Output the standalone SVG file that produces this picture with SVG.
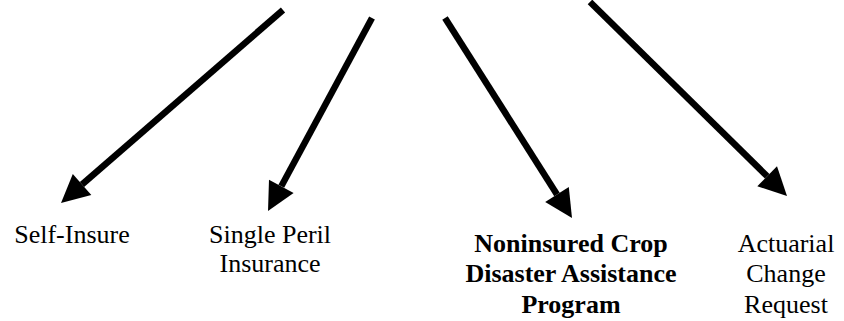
<svg xmlns="http://www.w3.org/2000/svg" width="844" height="321" viewBox="0 0 844 321">
<style>
.ln{stroke:#000;stroke-width:6.5;fill:none}
.hd{fill:#000}
text{font-family:"Liberation Serif","Times New Roman",serif;font-size:26px;fill:#000;text-anchor:middle}
.b{font-weight:bold}
</style>
<rect width="844" height="321" fill="#fff"/>
<g id="connectors">
<line class="ln" x1="283" y1="10" x2="82" y2="184.5"/>
<polygon class="hd" points="61,203 72.8,174 91.3,195"/>
<line class="ln" x1="372" y1="18" x2="281.3" y2="186.3"/>
<polygon class="hd" points="268,211 269,179.7 293.6,193"/>
<line class="ln" x1="445" y1="18" x2="557" y2="194.4"/>
<polygon class="hd" points="572,218 545.2,201.9 568.8,186.9"/>
<line class="ln" x1="590" y1="2" x2="767.2" y2="176.3"/>
<polygon class="hd" points="787,196 757.3,186.2 777,166.3"/>
</g>
<g id="self-insure"><text x="72" y="243">Self-Insure</text></g>
<g id="single-peril"><text x="270" y="243">Single Peril</text><text x="270" y="272">Insurance</text></g>
<g id="nap"><text class="b" x="571" y="252">Noninsured Crop</text><text class="b" x="571" y="282">Disaster Assistance</text><text class="b" x="571" y="313">Program</text></g>
<g id="acr"><text x="786" y="252">Actuarial</text><text x="786" y="282">Change</text><text x="786" y="313">Request</text></g>
</svg>
